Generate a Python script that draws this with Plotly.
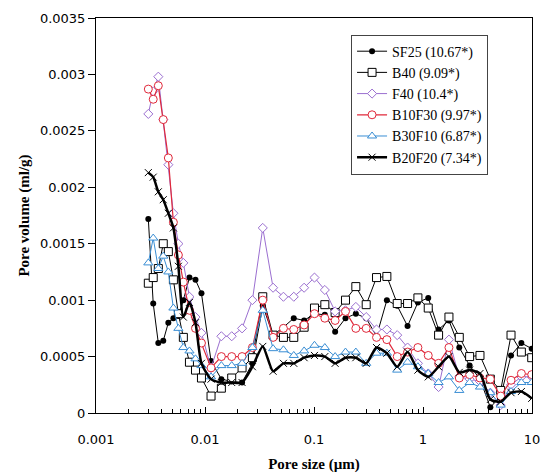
import plotly.graph_objects as go

# Pore size (µm) – shared sampling grid for all series
pore_size = [0.00302, 0.00335, 0.00373, 0.00414, 0.00461, 0.00513, 0.00570, 0.00633, 0.00720,
             0.00818, 0.00928, 0.01136, 0.01413, 0.01758, 0.02188, 0.02722, 0.03387, 0.04214,
             0.05243, 0.06524, 0.08116, 0.1010, 0.1257, 0.1563, 0.1945, 0.2420, 0.3012, 0.3747,
             0.4662, 0.5801, 0.7218, 0.8981, 1.117, 1.390, 1.730, 2.152, 2.678, 3.332, 4.147,
             5.160, 6.420, 7.988, 9.94]

sf25 = [0.00172, 0.00097, 0.00062, 0.00064, 0.00080, 0.00084, 0.00086, 0.00100, 0.00120,
        0.00118, 0.00106, 0.00046, 0.00030, 0.00028, 0.00027, 0.00044, 0.00095, 0.00069,
        0.00076, 0.00084, 0.00082, 0.00088, 0.00087, 0.00072, 0.00084, 0.00088, 0.00084,
        0.00068, 0.00100, 0.00095, 0.00077, 0.00098, 0.00102, 0.00074, 0.00082, 0.00058,
        0.00042, 0.00030, 0.00005, 0.00015, 0.00051, 0.00062, 0.00057]

b40 = [0.00115, 0.00120, 0.00128, 0.00150, 0.00143, 0.00118, 0.00088, 0.00067, 0.00045,
       0.00038, 0.00031, 0.00015, 0.00022, 0.00031, 0.00040, 0.00049, 0.00103, 0.00069,
       0.00067, 0.00067, 0.00076, 0.00093, 0.00096, 0.00089, 0.00100, 0.00112, 0.00096,
       0.00120, 0.00121, 0.00097, 0.00097, 0.00102, 0.00093, 0.00069, 0.00085, 0.00067,
       0.00050, 0.00051, 0.00030, 0.00020, 0.00069, 0.00054, 0.00049]

f40 = [0.00265, 0.00285, 0.00298, 0.00260, 0.00220, 0.00177, 0.00150, 0.00133, 0.00103,
       0.00085, 0.00071, 0.00040, 0.00068, 0.00068, 0.00075, 0.00100, 0.00164, 0.00111,
       0.00103, 0.00103, 0.00111, 0.00120, 0.00109, 0.00090, 0.00091, 0.00094, 0.00085,
       0.00074, 0.00074, 0.00069, 0.00058, 0.00044, 0.00035, 0.00023, 0.00065, 0.00032,
       0.00030, 0.00028, 0.00018, 0.00007, 0.00025, 0.00032, 0.00032]

b10f30 = [0.00287, 0.00278, 0.00290, 0.00260, 0.00226, 0.00169, 0.00140, 0.00116, 0.00091,
          0.00075, 0.00062, 0.00040, 0.00050, 0.00050, 0.00050, 0.00058, 0.00100, 0.00067,
          0.00075, 0.00074, 0.00078, 0.00088, 0.00084, 0.00082, 0.00090, 0.00075, 0.00075,
          0.00067, 0.00065, 0.00050, 0.00054, 0.00058, 0.00051, 0.00044, 0.00058, 0.00031,
          0.00034, 0.00031, 0.00030, 0.00015, 0.00029, 0.00035, 0.00034]

b30f10 = [0.00133, 0.00155, 0.00128, 0.00139, 0.00125, 0.00093, 0.00075, 0.00058, 0.00055,
          0.00048, 0.00042, 0.00032, 0.00042, 0.00042, 0.00044, 0.00058, 0.00091, 0.00057,
          0.00056, 0.00051, 0.00055, 0.00060, 0.00058, 0.00050, 0.00054, 0.00054, 0.00044,
          0.00053, 0.00053, 0.00038, 0.00045, 0.00041, 0.00035, 0.00027, 0.00032, 0.00020,
          0.00027, 0.00023, 0.00018, 0.00007, 0.00019, 0.00027, 0.00027]

b20f20 = [0.00213, 0.00209, 0.00196, 0.00189, 0.00177, 0.00164, 0.00130, 0.00085, 0.00098,
          0.00080, 0.00044, 0.00030, 0.00027, 0.00027, 0.00027, 0.00041, 0.00059, 0.00037,
          0.00044, 0.00044, 0.00049, 0.00051, 0.00050, 0.00044, 0.00049, 0.00049, 0.00044,
          0.00058, 0.00053, 0.00041, 0.00054, 0.00038, 0.00032, 0.00041, 0.00050, 0.00036,
          0.00038, 0.00035, 0.00012, 0.00010, 0.00018, 0.00019, 0.00013]

series_names = ["SF25 (10.67*)", "B40 (9.09*)", "F40 (10.4*)",
                "B10F30 (9.97*)", "B30F10 (6.87*)", "B20F20 (7.34*)"]

y_tick_vals = [0, 0.0005, 0.001, 0.0015, 0.002, 0.0025, 0.003, 0.0035]
y_tick_text = ["0", "0.0005", "0.001", "0.0015", "0.002", "0.0025", "0.003", "0.0035"]
x_tick_vals = [0.001, 0.01, 0.1, 1, 10]
x_tick_text = ["0.001", "0.01", "0.1", "1", "10"]
# minor ticks at 2..9 within each decade
x_minor_vals = [m * d for d in x_tick_vals[:-1] for m in range(2, 10)]

fig = go.Figure()

fig.add_trace(go.Scatter(x=pore_size, y=sf25, name=series_names[0], mode="lines+markers",
                         line=dict(color="black", width=1),
                         marker=dict(symbol="circle", size=6, color="black")))
fig.add_trace(go.Scatter(x=pore_size, y=b40, name=series_names[1], mode="lines+markers",
                         line=dict(color="black", width=1),
                         marker=dict(symbol="square", size=8, color="white",
                                     line=dict(color="black", width=1))))
fig.add_trace(go.Scatter(x=pore_size, y=f40, name=series_names[2], mode="lines+markers",
                         line=dict(color="#9b6fd0", width=1),
                         marker=dict(symbol="diamond", size=7, color="white",
                                     line=dict(color="#9b6fd0", width=1))))
fig.add_trace(go.Scatter(x=pore_size, y=b10f30, name=series_names[3], mode="lines+markers",
                         line=dict(color="#e0283a", width=1.2),
                         marker=dict(symbol="circle", size=8, color="white",
                                     line=dict(color="#e0283a", width=1))))
fig.add_trace(go.Scatter(x=pore_size, y=b30f10, name=series_names[4], mode="lines+markers",
                         line=dict(color="#3a8ed4", width=1),
                         marker=dict(symbol="triangle-up", size=8, color="white",
                                     line=dict(color="#3a8ed4", width=1))))
fig.add_trace(go.Scatter(x=pore_size, y=b20f20, name=series_names[5], mode="lines+markers",
                         line=dict(color="black", width=2.5, shape="spline", smoothing=0.6),
                         marker=dict(symbol="x-thin", size=7, color="black",
                                     line=dict(color="black", width=1))))

fig.update_layout(
    width=546, height=473,
    margin=dict(l=96, r=14, t=18, b=60),
    paper_bgcolor="white", plot_bgcolor="white",
    font=dict(family="DejaVu Sans", size=12, color="black"),
    showlegend=True,
    legend=dict(x=0.585, y=0.958, xanchor="left", yanchor="top",
                bgcolor="white", bordercolor="#444444", borderwidth=1,
                font=dict(family="Liberation Serif", size=14, color="black"),
                tracegroupgap=0, itemwidth=30),
)

fig.update_xaxes(type="log", range=[-3, 1], automargin=False,
                 tickmode="array", tickvals=x_tick_vals, ticktext=x_tick_text,
                 ticks="inside", ticklen=6, tickcolor="black",
                 ticklabelstandoff=14,
                 minor=dict(tickmode="array", tickvals=x_minor_vals,
                            ticks="inside", ticklen=4, tickcolor="black", showgrid=False),
                 showline=True, linecolor="black", linewidth=1, mirror=True,
                 showgrid=False, zeroline=False,
                 tickfont=dict(family="DejaVu Sans", size=13),
                 title=dict(text="<b>Pore size (µm)</b>",
                            font=dict(family="Liberation Serif", size=15), standoff=12))

fig.update_yaxes(range=[0, 0.0035], automargin=False,
                 tickvals=y_tick_vals, ticktext=y_tick_text,
                 ticks="outside", ticklen=7, tickcolor="black",
                 showline=True, linecolor="black", linewidth=1, mirror=True,
                 showgrid=False, zeroline=False,
                 tickfont=dict(family="DejaVu Sans", size=13),
                 title=dict(text="<b>Pore volume (ml/g)</b>",
                            font=dict(family="Liberation Serif", size=15), standoff=6))

fig.write_html("out.html")
